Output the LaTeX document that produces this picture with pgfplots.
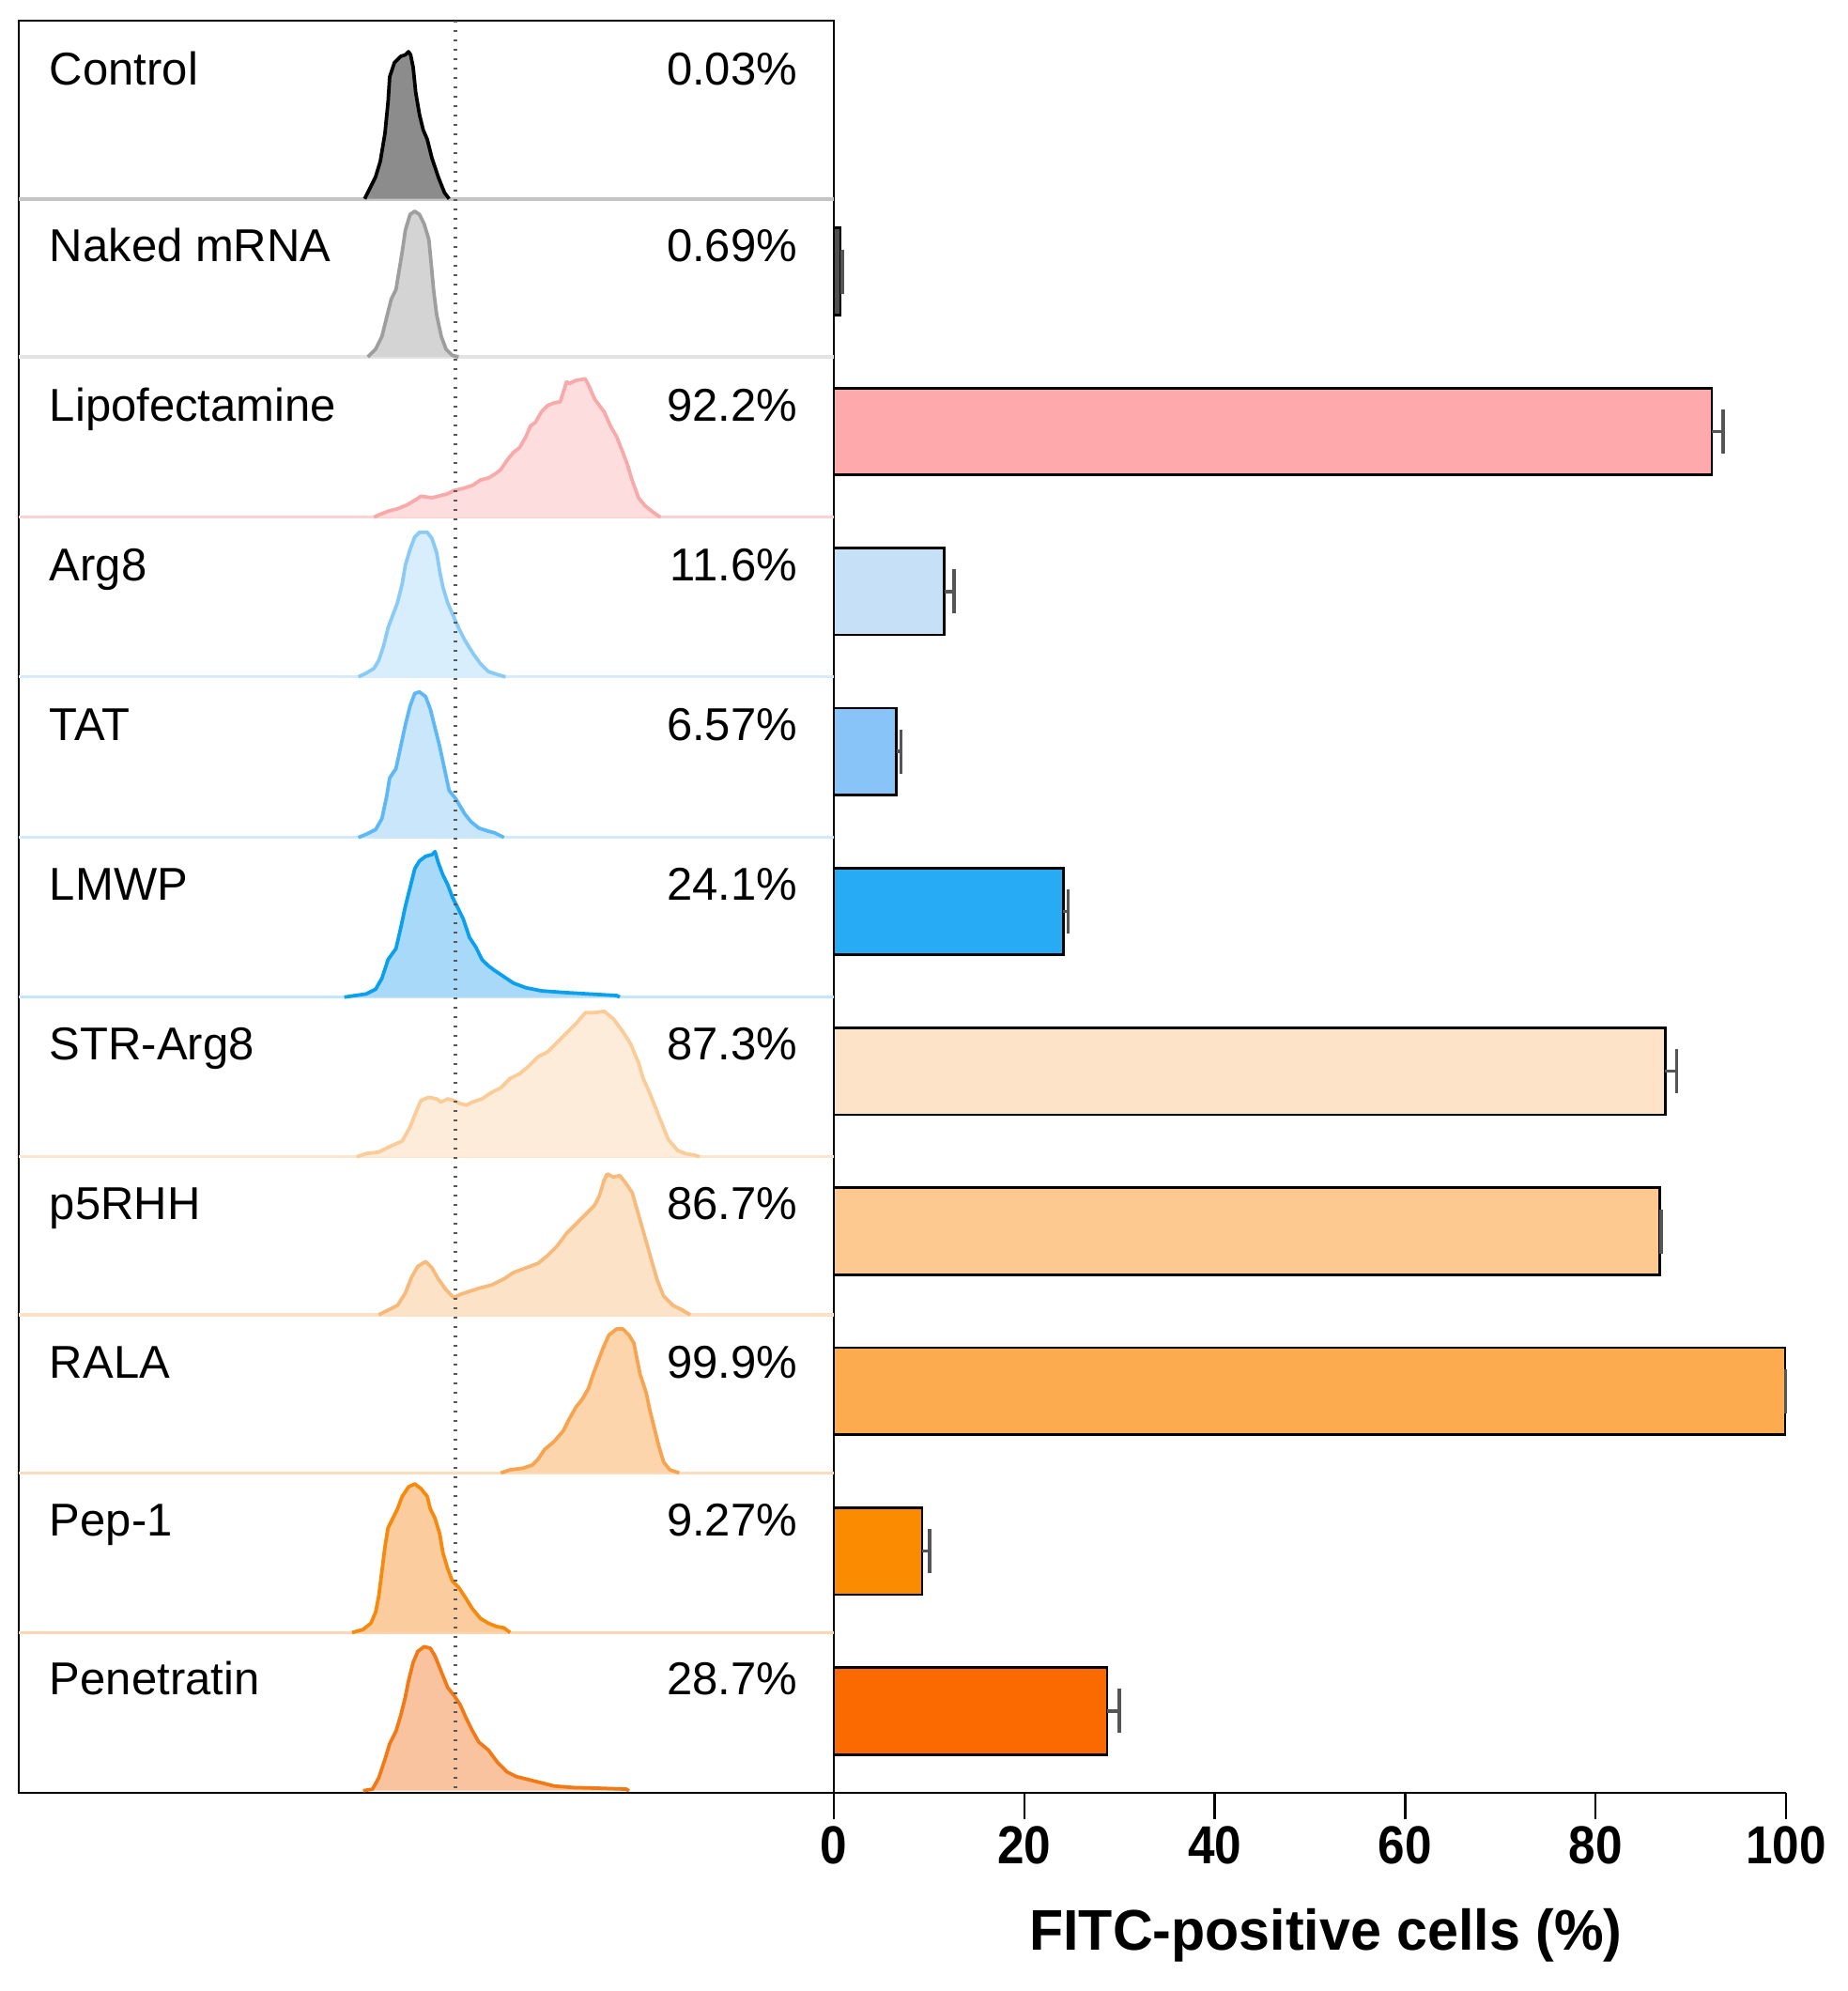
\documentclass[border=0pt]{standalone}
\usepackage{fontspec}
\setmainfont{Liberation Sans}
\usepackage{graphicx}
\usepackage{pgfplots}
\usepackage{pgfplotstable}
\pgfplotsset{compat=1.18}

% histogram colours: F = fill, L = outline, B = baseline
\definecolor{ctrlF}{HTML}{8C8C8C}\definecolor{ctrlL}{HTML}{000000}\definecolor{ctrlB}{HTML}{C4C4C4}
\definecolor{nakF}{HTML}{D4D4D4}\definecolor{nakL}{HTML}{9E9E9E}\definecolor{nakB}{HTML}{E4E4E4}
\definecolor{lipF}{HTML}{FDDDDD}\definecolor{lipL}{HTML}{F8A9A9}\definecolor{lipB}{HTML}{FCD2D2}
\definecolor{argF}{HTML}{D9EEFC}\definecolor{argL}{HTML}{8ACAF7}\definecolor{argB}{HTML}{D6ECFC}
\definecolor{tatF}{HTML}{C9E6FB}\definecolor{tatL}{HTML}{5DB8F5}\definecolor{tatB}{HTML}{D0EAFB}
\definecolor{lmwF}{HTML}{A9D9F8}\definecolor{lmwL}{HTML}{0AA0EE}\definecolor{lmwB}{HTML}{C4E6FB}
\definecolor{strF}{HTML}{FDECDA}\definecolor{strL}{HTML}{FBCB98}\definecolor{strB}{HTML}{FDE6CF}
\definecolor{p5F}{HTML}{FCE3C8}\definecolor{p5L}{HTML}{F8BA7B}\definecolor{p5B}{HTML}{FCE1C6}
\definecolor{ralF}{HTML}{FCD5AC}\definecolor{ralL}{HTML}{F7A350}\definecolor{ralB}{HTML}{FBDDBE}
\definecolor{pepF}{HTML}{FBCC9D}\definecolor{pepL}{HTML}{F68A0E}\definecolor{pepB}{HTML}{FAD6B3}
\definecolor{penF}{HTML}{F9C3A0}\definecolor{penL}{HTML}{F27A16}\definecolor{penB}{HTML}{F9CDAF}
% bar colours
\definecolor{bNak}{HTML}{505050}
\definecolor{bLip}{HTML}{FEAAAC}
\definecolor{bArg}{HTML}{C6E0F8}
\definecolor{bTat}{HTML}{88C4F7}
\definecolor{bLmw}{HTML}{27ABF5}
\definecolor{bStr}{HTML}{FDE3C8}
\definecolor{bP5}{HTML}{FEC891}
\definecolor{bRal}{HTML}{FDAB4F}
\definecolor{bPep}{HTML}{FB8B00}
\definecolor{bPen}{HTML}{FB6A00}
\definecolor{errc}{HTML}{555555}

% flow-cytometry histograms, in picture pixel coordinates
\pgfplotstableread{
x y
388.3 211.7
393.3 201.7
400 188.3
405 171.7
410 141.7
413.3 108.3
415 81.7
420 66.7
426.7 60
431.7 58.3
435 55
437.3 58.3
440 71.7
442.7 98.3
446.7 121.7
450.7 138.3
455 148.3
460 168.3
466.7 188.3
473.3 205
478.3 211.7
}\hCtrl
\pgfplotstableread{
x y
391.7 380
400 371.7
406.7 358.3
411.7 338.3
416.7 318.3
421.7 308.3
425 288.3
428.3 268.3
431.7 245
436.7 228.3
441.7 225
446.7 228.3
451.7 238.3
456.7 255
459.3 281.7
461.7 308.3
465 335
470 358.3
475 371.7
481.7 378.3
488.3 380
}\hNak
\pgfplotstableread{
x y
398.3 550.7
403.3 548.3
413.3 544.3
423.3 541.7
433.3 537.7
443.3 531.7
448.3 528.3
460 530
466.7 528.3
476.7 525.7
483.3 522.3
493.3 520
503.3 516.7
511.7 511
520 509
526.7 505
533.3 500
540 490
546.7 481.7
553.3 476.7
560 465
565 453.3
570 450
576.7 438.3
583.3 431.7
590 429
596.7 427.7
603.3 406.7
606.7 408.3
613.3 405
623.3 403.3
628.3 413.3
633.3 425
643.3 438.3
650 453.3
656.7 465
663.3 481.7
668.3 495
673.3 511.7
680 530
686.7 538.3
695 545
703.3 550.7
}\hLip
\pgfplotstableread{
x y
381.7 720.7
390 716.7
398.3 711.7
403.3 703.3
408.3 688.3
413.3 668.3
418.3 655
423.3 641.7
428.3 621.7
431.7 601.7
436.7 585
441.7 571.7
446.7 566.7
455 566.7
460 573.3
465 588.3
468.3 608.3
471.7 625
476.7 641.7
481.7 653.3
488.3 668.3
495 681.7
503.3 695
511.7 706.7
520 715
530 718.3
538.3 720.7
}\hArg
\pgfplotstableread{
x y
381.7 891.7
390 888.3
400 883.3
406.7 871.7
411.7 848.3
415 828.3
421.7 818.3
426.7 795
431.7 771.7
436.7 751.7
441.7 738.3
446.7 736.7
453.3 741.7
458.3 755
463.3 775
468.3 795
473.3 818.3
478.3 841.7
485 850
490 858.3
495 866.7
501.7 875
510 881.7
520 885
526.7 886.7
533.3 890
536.7 891.7
}\hTat
\pgfplotstableread{
x y
366.7 1061.7
378.3 1060
390 1058.3
400 1053.3
406.7 1041.7
413.3 1021.7
421.7 1010
426.7 988.3
431.7 965
436.7 945
441.7 925
446.7 916.7
453.3 911.7
460 910
463.3 906.7
466.7 918.3
471.7 931.7
476.7 941.7
481.7 955
486.7 965
493.3 978.3
500 998.3
506.7 1008.3
513.3 1021.7
520 1028.3
526.7 1033.3
536.7 1040
546.7 1046.7
560 1051.7
576.7 1055
600 1056.7
626.7 1058.3
656.7 1060
660 1061.7
}\hLmw
\pgfplotstableread{
x y
380 1231.7
390 1228.3
403.3 1226.7
416.7 1220
428.3 1215
436.7 1200
443.3 1183.3
448.3 1171.7
456.7 1168.3
465 1170
470 1173.3
476.7 1170
483.3 1171.7
490 1175
496.7 1176.7
503.3 1173.3
513.3 1170
523.3 1163.3
533.3 1158.3
543.3 1148.3
553.3 1143.3
563.3 1135
573.3 1125
583.3 1120
593.3 1110
603.3 1100
613.3 1090
623.3 1078.3
633.3 1078.3
643.3 1076.7
653.3 1085
663.3 1098.3
671.7 1111.7
680 1131.7
685 1148.3
691.7 1163.3
698.3 1180
705 1196.7
711.7 1213.3
721.7 1225
730 1228.3
740 1230
745 1231.7
}\hStr
\pgfplotstableread{
x y
403.3 1400
413.3 1395
423.3 1390
431.7 1376.7
438.3 1360
445 1348.3
453.3 1343.3
460 1350
466.7 1361.7
475 1373.3
483.3 1381.7
490 1378.3
500 1375
510 1371.7
523.3 1368.3
536.7 1361.7
546.7 1355
560 1350
573.3 1345
583.3 1336.7
593.3 1326.7
603.3 1313.3
613.3 1303.3
623.3 1293.3
633.3 1283.3
638.3 1273.3
643.3 1256.7
646.7 1250
653.3 1253.3
660 1251.7
666.7 1260
673.3 1270
680 1293.3
686.7 1316.7
693.3 1340
700 1363.3
706.7 1380
716.7 1390
726.7 1395
735 1400
}\hPfive
\pgfplotstableread{
x y
533.3 1568.3
543.3 1565
556.7 1563.3
566.7 1560
573.3 1553.3
580 1543.3
590 1535
600 1523.3
606.7 1510
613.3 1498.3
620 1490
626.7 1478.3
631.7 1463.3
636.7 1450
641.7 1436.7
648.3 1421.7
656.7 1415
663.3 1415
670 1421.7
675 1430
678.3 1446.7
681.7 1463.3
688.3 1483.3
691.7 1500
696.7 1520
701.7 1540
706.7 1556.7
713.3 1565
723.3 1568.3
}\hRal
\pgfplotstableread{
x y
375 1738.3
386.7 1735
395 1728.3
400 1716.7
403.3 1700
406.7 1673.3
410 1646.7
413.3 1626.7
418.3 1616.7
423.3 1606.7
428.3 1593.3
435 1583.3
441.7 1580
448.3 1585
455 1593.3
458.3 1606.7
463.3 1616.7
468.3 1633.3
471.7 1653.3
476.7 1670
481.7 1683.3
488.3 1690
495 1700
503.3 1713.3
511.7 1723.3
520 1728.3
528.3 1731.7
536.7 1733.3
543.3 1738.3
}\hPep
\pgfplotstableread{
x y
386.7 1906.7
396.7 1905
403.3 1893.3
410 1873.3
415 1856.7
421.7 1843.3
426.7 1826.7
431.7 1806.7
435 1790
440 1770
445 1758.3
451.7 1753.3
458.3 1755
463.3 1763.3
470 1780
476.7 1796.7
483.3 1805
490 1815
496.7 1830
503.3 1843.3
510 1855
520 1863.3
530 1876.7
540 1886.7
550 1891.7
563.3 1895
576.7 1898.3
590 1901.7
610 1903.3
636.7 1904
666.7 1905
670 1906.7
}\hPen

\newcommand{\hist}[3]{% table, fill, line
  \addplot[draw=none, fill=#2] table {#1} -- cycle;
  \addplot[draw=#3, line width=0.75pt, line join=round] table {#1};
}
\newcommand{\base}[2]{\addplot[draw=#1, line width=0.7pt] coordinates {(20,#2) (888,#2)};}

\begin{document}
\begin{tikzpicture}
\path[use as bounding box] (0,0) rectangle (393.6pt,-424pt);

% ---------------- left panel: histograms ----------------
\begin{axis}[
  at={(4pt,-4.4pt)}, anchor=north west,
  scale only axis, width=173.6pt, height=377.4pt,
  xmin=20, xmax=888, ymin=22, ymax=1909, y dir=reverse,
  xtick=\empty, ytick=\empty,
  axis line style={line width=0.55pt, black},
  clip=true,
]
\base{ctrlB}{212}
\base{nakB}{380}
\base{lipB}{550.7}
\base{argB}{720.7}
\base{tatB}{891.7}
\base{lmwB}{1061.7}
\base{strB}{1231.7}
\base{p5B}{1400}
\base{ralB}{1568.3}
\base{pepB}{1738.3}
\hist{\hCtrl}{ctrlF}{ctrlL}
\hist{\hNak}{nakF}{nakL}
\hist{\hLip}{lipF}{lipL}
\hist{\hArg}{argF}{argL}
\hist{\hTat}{tatF}{tatL}
\hist{\hLmw}{lmwF}{lmwL}
\hist{\hStr}{strF}{strL}
\hist{\hPfive}{p5F}{p5L}
\hist{\hRal}{ralF}{ralL}
\hist{\hPep}{pepF}{pepL}
\hist{\hPen}{penF}{penL}
\addplot[draw=black!65, line width=0.65pt, dash pattern=on 0.45pt off 1.55pt] coordinates {(485,22) (485,1909)};
\end{axis}

% ---------------- right panel: bars ----------------
\begin{axis}[
  at={(177.6pt,-4.4pt)}, anchor=north west,
  scale only axis, width=202.8pt, height=377.4pt,
  xmin=0, xmax=100, ymin=22, ymax=1909, y dir=reverse,
  axis x line*=bottom, axis y line*=left,
  y axis line style={draw=none}, ytick=\empty,
  x axis line style={line width=0.55pt, black},
  xtick={0,20,40,60,80,100},
  tick align=outside, major tick length=5.6pt,
  tick style={black, line width=0.5pt},
  /pgf/number format/assume math mode=true,
  xticklabel={\scalebox{0.9}[1]{\pgfmathprintnumber{\tick}}},
  xticklabel style={font=\fontsize{11.4}{12}\selectfont\bfseries, inner sep=0pt, yshift=-1.3pt},
  clip=false,
  xbar, bar shift=0pt, bar width=18.5pt,
  every axis plot/.append style={draw=black, line width=0.55pt},
  error bars/error bar style={line width=0.7pt, errc},
  error bars/error mark options={line width=0.7pt, errc, mark size=4.7pt, rotate=90},
]
\addplot[fill=bNak, error bars/.cd, x dir=plus, x explicit] coordinates {(0.69,289) +- (0.2,0)};
\addplot[fill=bLip, error bars/.cd, x dir=plus, x explicit] coordinates {(92.2,459.5) +- (1.2,0)};
\addplot[fill=bArg, error bars/.cd, x dir=plus, x explicit] coordinates {(11.6,629.8) +- (1.0,0)};
\addplot[fill=bTat, error bars/.cd, x dir=plus, x explicit] coordinates {(6.57,800.1) +- (0.5,0)};
\addplot[fill=bLmw, error bars/.cd, x dir=plus, x explicit] coordinates {(24.1,970.4) +- (0.5,0)};
\addplot[fill=bStr, error bars/.cd, x dir=plus, x explicit] coordinates {(87.3,1140.7) +- (1.2,0)};
\addplot[fill=bP5, error bars/.cd, x dir=plus, x explicit] coordinates {(86.7,1311) +- (0.2,0)};
\addplot[fill=bRal, error bars/.cd, x dir=plus, x explicit] coordinates {(99.9,1481.3) +- (0.05,0)};
\addplot[fill=bPep, error bars/.cd, x dir=plus, x explicit] coordinates {(9.27,1651.6) +- (0.8,0)};
\addplot[fill=bPen, error bars/.cd, x dir=plus, x explicit] coordinates {(28.7,1821.9) +- (1.3,0)};
\end{axis}

% ---------------- texts ----------------
\begin{scope}[x=0.2pt, y=-0.2pt, every node/.style={inner sep=0pt, font=\fontsize{9.8}{12}\selectfont}]
\node[anchor=base west] at (52,90) {Control};
\node[anchor=base west] at (52,278) {Naked mRNA};
\node[anchor=base west] at (52,448) {Lipofectamine};
\node[anchor=base west] at (52,618) {Arg8};
\node[anchor=base west] at (52,788) {TAT};
\node[anchor=base west] at (52,958) {LMWP};
\node[anchor=base west] at (52,1128) {STR-Arg8};
\node[anchor=base west] at (52,1298) {p5RHH};
\node[anchor=base west] at (52,1467) {RALA};
\node[anchor=base west] at (52,1635) {Pep-1};
\node[anchor=base west] at (52,1805) {Penetratin};
\node[anchor=base east] at (850,90) {0.03\%};
\node[anchor=base east] at (850,278) {0.69\%};
\node[anchor=base east] at (850,448) {92.2\%};
\node[anchor=base east] at (850,618) {11.6\%};
\node[anchor=base east] at (850,788) {6.57\%};
\node[anchor=base east] at (850,958) {24.1\%};
\node[anchor=base east] at (850,1128) {87.3\%};
\node[anchor=base east] at (850,1298) {86.7\%};
\node[anchor=base east] at (850,1467) {99.9\%};
\node[anchor=base east] at (850,1635) {9.27\%};
\node[anchor=base east] at (850,1805) {28.7\%};
\node[anchor=base, font=\fontsize{12.2}{14}\selectfont\bfseries] at (1412,2077) {\scalebox{0.97}[1]{FITC-positive cells (\%)}};
\end{scope}
\end{tikzpicture}
\end{document}
